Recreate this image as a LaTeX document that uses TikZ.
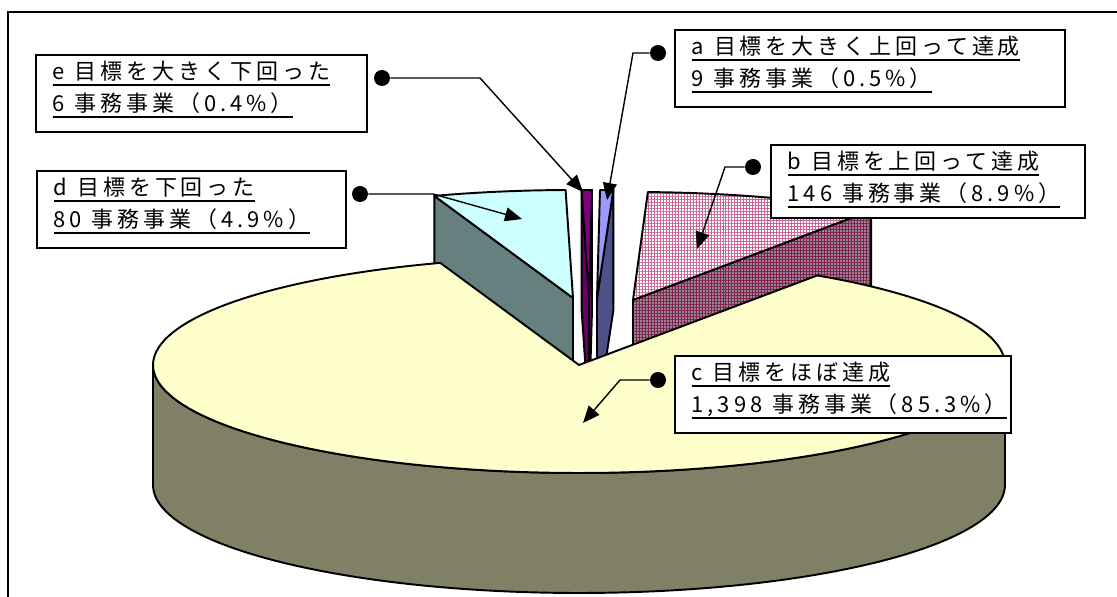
\documentclass[tikz,border=0pt]{standalone}
\usepackage{fontspec}
\setmainfont{Noto Sans CJK JP}[LetterSpace=18]
\usetikzlibrary{positioning,arrows.meta,patterns.meta}
\definecolor{pieyellow}{HTML}{FFFFCC}
\definecolor{pieolive}{HTML}{808066}
\definecolor{piecyan}{HTML}{CCFFFF}
\definecolor{pieteal}{HTML}{668080}
\definecolor{piepurple}{HTML}{800080}
\definecolor{piedeep}{HTML}{660066}
\definecolor{pieblue}{HTML}{9999FF}
\definecolor{pieslate}{HTML}{505088}
\definecolor{piepink}{HTML}{CC6699}
\definecolor{piemauve}{HTML}{9A8490}
\definecolor{piewine}{HTML}{802050}
\newcommand{\labline}[1]{\leavevmode\setbox0=\hbox{#1}\rlap{\rule[-3.6pt]{\wd0}{1.1pt}}\box0}
\newcommand{\wsp}{\hspace{0.45em}}

\begin{document}
\begin{tikzpicture}[x=0.02cm, y=-0.02cm,
    pieedge/.style={draw=black, line width=1.1pt, line join=round},
    labelbox/.style={draw, line width=0.9pt, fill=white, anchor=north west, align=left,
        inner xsep=0.34cm, inner ysep=0.13cm, text depth=0.91cm,
        font=\fontsize{12.5}{18.1}\selectfont},
    leaddot/.style={circle, fill=black, inner sep=0pt, minimum size=0.32cm},
    leader/.style={line width=0.8pt, -{Triangle[length=0.34cm, width=0.28cm]}}]
    \useasboundingbox (0,0) rectangle (1117,597);
    \draw[line width=1.1pt] (8,597) -- (8,12) -- (1117,12);

    \draw[pieedge, fill=pieteal] (434.3,195.9) -- (573,298) -- (573,418) -- (434.3,315.9) -- cycle;
    \draw[pieedge, fill=piecyan] (573,298) -- plot[domain=109:91, samples=20] ({573+426*cos(\x)},{298-108*sin(\x)}) -- cycle;

    \draw[pieedge, fill=piedeep] (581.6,190) -- (589,298) -- (589,418) -- (581.6,310) -- cycle;
    \draw[pieedge, fill=piedeep] (589,298) -- (592,190) -- (592,310) -- (589,418) -- cycle;
    \draw[pieedge, fill=piepurple] (589,298) -- (581.6,190) -- (592,190) -- cycle;

    \draw[pieedge, fill=pieslate] (597,298) -- (613.4,190) -- (613.4,310) -- (597,418) -- cycle;
    \draw[pieedge, fill=pieblue] (597,298) -- (613.4,190) -- (600,190) -- cycle;

    \draw[pieedge, pattern={Hatch[distance=1.7pt, line width=0.35pt]}, pattern color=piewine,
        preaction={fill=piemauve}] (633,300) -- (871.2,210.5) -- (871.2,330.5) -- (633,420) -- cycle;
    \draw[pieedge, pattern={Hatch[distance=1.7pt, line width=0.35pt]}, pattern color=piepink,
        preaction={fill=white}] (633,300) -- plot[domain=56:88, samples=30] ({633+426*cos(\x)},{300-108*sin(\x)}) -- cycle;

    \draw[pieedge, fill=pieolive] plot[domain=180:360, samples=90] ({579+426*cos(\x)},{365-108*sin(\x)})
        -- plot[domain=360:180, samples=90] ({579+426*cos(\x)},{485-108*sin(\x)}) -- cycle;
    \draw[pieedge, fill=pieyellow] (579,365) -- plot[domain=109:416, samples=150] ({579+426*cos(\x)},{365-108*sin(\x)}) -- cycle;

    \node[labelbox, text width=5.94cm] (elabel) at (35,54) {\labline{e\wsp 目標を大きく下回った}\\\labline{6\wsp 事務事業（0.4\%）}};
    \node[labelbox, text width=5.5cm] (dlabel) at (36,170) {\labline{d\wsp 目標を下回った}\\\labline{80\wsp 事務事業（4.9\%）}};
    \node[labelbox, text width=7.12cm] (alabel) at (674,29) {\labline{a\wsp 目標を大きく上回って達成}\\\labline{9\wsp 事務事業（0.5\%）}};
    \node[labelbox, text width=5.6cm, text depth=0.84cm] (blabel) at (770,144) {\labline{b\wsp 目標を上回って達成}\\\labline{146\wsp 事務事業（8.9\%）}};
    \node[labelbox, text width=6.04cm] (clabel) at (674,355) {\labline{c\wsp 目標をほぼ達成}\\\labline{1,398\wsp 事務事業（85.3\%）}};

    \node[leaddot] (edot) at (382,78) {};
    \node[leaddot] (ddot) at (360,194) {};
    \node[leaddot] (adot) at (658,53) {};
    \node[leaddot] (bdot) at (753,167) {};
    \node[leaddot] (cdot) at (658,380) {};
    \coordinate (eknee) at (480,78);
    \coordinate (etip) at (583,192);
    \coordinate (dknee) at (433,194);
    \coordinate (dtip) at (522,219);
    \coordinate (aknee) at (633,53);
    \coordinate (atip) at (607,200);
    \coordinate (bknee) at (725,167);
    \coordinate (btip) at (697,249);
    \coordinate (cknee) at (620,380);
    \coordinate (ctip) at (583,423);
    \draw[leader] (edot) -- (eknee) -- (etip);
    \draw[leader] (ddot) -- (dknee) -- (dtip);
    \draw[leader] (adot) -- (aknee) -- (atip);
    \draw[leader] (bdot) -- (bknee) -- (btip);
    \draw[leader] (cdot) -- (cknee) -- (ctip);
\end{tikzpicture}
\end{document}
